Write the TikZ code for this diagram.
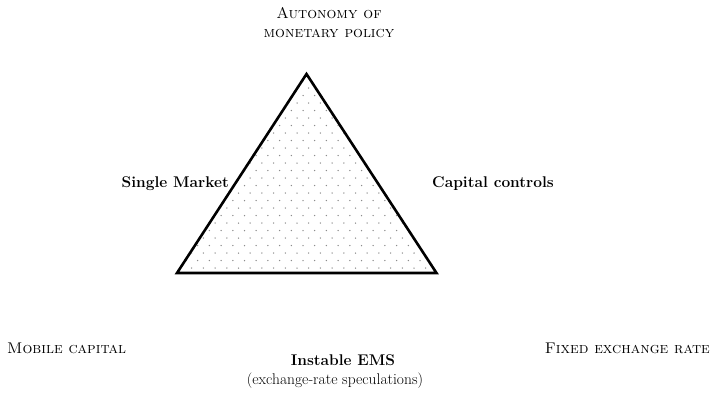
\documentclass[tikz,border=0pt]{standalone}
\begin{document}
\begin{tikzpicture}[x=1pt,y=-1pt,
  lbl/.style={inner sep=0pt,font=\fontsize{15.5}{19}\selectfont},
  sclbl/.style={inner sep=0pt,font=\fontsize{15.5}{19}\selectfont\scshape,align=center},
  boldlbl/.style={inner sep=0pt,font=\fontsize{15.5}{19}\selectfont\bfseries},
  dotfill/.style={fill=gray!90}]
\useasboundingbox (0,0) rectangle (712,394);
\coordinate (A) at (306.5,74);
\coordinate (B) at (177,273);
\coordinate (C) at (436.5,273);
\begin{scope}
  \clip (A) -- (B) -- (C) -- cycle;
  \foreach \r in {0,...,27}{
    \pgfmathsetmacro{\yy}{268-\r*7.5}
    \pgfmathsetmacro{\off}{mod(\r,2)*6}
    \foreach \c in {0,...,22}{
      \fill[dotfill] (180+\off+\c*11.7,\yy) circle (0.75);
    }
  }
\end{scope}
\draw[line width=2.6pt,line join=miter] (A) -- (B) -- (C) -- cycle;
\node[sclbl] (top) at (329,23) {Autonomy of\\monetary policy};
\node[boldlbl,anchor=east] (sm) at (229,184) {Single Market};
\node[boldlbl,anchor=west] (cc) at (432,184) {Capital controls};
\node[sclbl,anchor=west] (mc) at (7,348) {Mobile capital};
\node[sclbl,anchor=east] (fx) at (710,348) {Fixed exchange rate};
\node[boldlbl] (ems) at (343,360) {Instable EMS};
\node[lbl] (spec) at (335,381) {(exchange-rate speculations)};
\end{tikzpicture}
\end{document}
